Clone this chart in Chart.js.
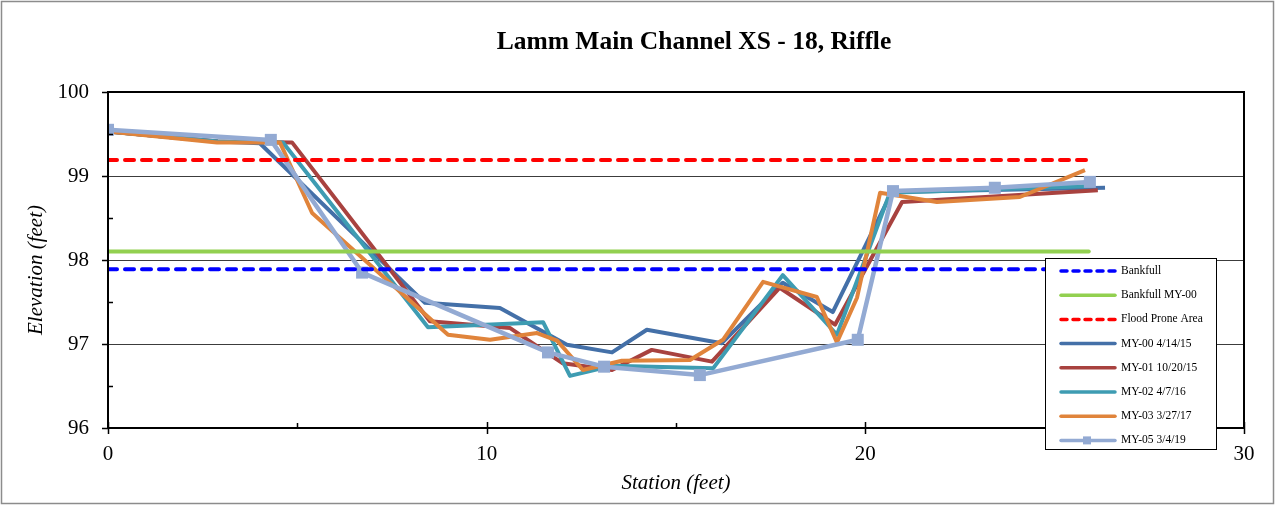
<!DOCTYPE html>
<html>
<head>
<meta charset="utf-8">
<script src="https://cdn.jsdelivr.net/npm/chart.js@4.4.1/dist/chart.umd.min.js"></script>
<style>
html,body{margin:0;padding:0;background:#fff;}
canvas{display:block;}
</style>
</head>
<body>
<canvas id="c" width="1275" height="506"></canvas>
<script>
// ---- Data ----
const chartTitle = "Lamm Main Channel XS - 18, Riffle";
const xTitle = "Station (feet)";
const yTitle = "Elevation (feet)";
const xTicks = [0, 10, 20, 30];
const yTicks = [96, 97, 98, 99, 100];

const refStation = [0, 25.9];
const bankfullElev = 97.89;
const bankfullMY00Elev = 98.10;
const floodProneElev = 99.19;

const my00Station = [0, 2.9, 4.01, 8.37, 10.35, 12.12, 13.31, 14.23, 16.21, 17.82, 19.14, 20.70, 26.33];
const my00Elev    = [99.53, 99.41, 99.39, 97.49, 97.43, 96.99, 96.90, 97.17, 97.01, 97.73, 97.38, 98.81, 98.86];

const my01Station = [0, 2.9, 4.86, 8.50, 10.62, 12.01, 13.31, 14.36, 15.95, 17.74, 19.20, 20.97, 26.14];
const my01Elev    = [99.53, 99.41, 99.40, 97.27, 97.19, 96.77, 96.69, 96.93, 96.79, 97.67, 97.23, 98.69, 98.83];

const my02Station = [0, 2.9, 4.62, 8.45, 11.49, 12.20, 13.31, 15.98, 17.82, 19.25, 20.65, 26.01];
const my02Elev    = [99.53, 99.41, 99.40, 97.20, 97.26, 96.62, 96.74, 96.71, 97.82, 97.11, 98.80, 98.88];

const my03Station = [0, 2.88, 4.54, 5.39, 8.98, 10.09, 11.33, 11.86, 12.54, 13.57, 15.37, 16.24, 17.30, 18.72, 19.25, 19.78, 20.39, 21.89, 24.08, 25.80];
const my03Elev    = [99.53, 99.40, 99.40, 98.56, 97.11, 97.05, 97.13, 97.04, 96.69, 96.80, 96.81, 97.05, 97.74, 97.56, 97.02, 97.55, 98.80, 98.69, 98.75, 99.07];

const my05Station = [0, 4.30, 6.71, 11.62, 13.10, 15.63, 19.80, 20.73, 23.42, 25.93];
const my05Elev    = [99.55, 99.43, 97.85, 96.90, 96.73, 96.63, 97.05, 98.82, 98.86, 98.93];

const seriesNames = ["Bankfull", "Bankfull MY-00", "Flood Prone Area", "MY-00 4/14/15", "MY-01 10/20/15", "MY-02 4/7/16", "MY-03 3/27/17", "MY-05 3/4/19"];

function pts(xs, ys) { return xs.map((x, i) => ({x: x, y: ys[i]})); }
function flat(xs, v) { return xs.map(x => ({x: x, y: v})); }

const SERIF = "'Liberation Serif', 'Times New Roman', serif";

const datasets = [
  {label: seriesNames[0], data: flat(refStation, bankfullElev), borderColor: '#0000FF', borderWidth: 4, borderDash: [9, 8], borderCapStyle: 'round', order: 0},
  {label: seriesNames[1], data: flat(refStation, bankfullMY00Elev), borderColor: '#92D050', borderWidth: 4, borderCapStyle: 'round', order: 0},
  {label: seriesNames[2], data: flat(refStation, floodProneElev), borderColor: '#FF0000', borderWidth: 4, borderDash: [9, 8], borderCapStyle: 'round', order: 0},
  {label: seriesNames[3], data: pts(my00Station, my00Elev), borderColor: '#4470A8', borderWidth: 4, order: 5},
  {label: seriesNames[4], data: pts(my01Station, my01Elev), borderColor: '#A8423F', borderWidth: 4, order: 4},
  {label: seriesNames[5], data: pts(my02Station, my02Elev), borderColor: '#3E9CB2', borderWidth: 4, order: 3},
  {label: seriesNames[6], data: pts(my03Station, my03Elev), borderColor: '#E0843B', borderWidth: 4, order: 2},
  {label: seriesNames[7], data: pts(my05Station, my05Elev), borderColor: '#93AAD3', borderWidth: 4.5, order: 1,
   pointStyle: 'rect', pointRadius: 8.5, pointBackgroundColor: '#93AAD3', pointBorderColor: '#93AAD3', pointBorderWidth: 0}
];
datasets.forEach(d => {
  d.showLine = true; d.fill = false; d.tension = 0; d.borderJoinStyle = 'round';
  if (d.pointRadius === undefined) d.pointRadius = 0;
});

const decor = {
  id: 'decor',
  beforeDraw(chart) {
    const ctx = chart.ctx;
    ctx.save();
    ctx.fillStyle = '#fff';
    ctx.fillRect(0, 0, chart.width, chart.height);
    ctx.restore();
  },
  afterDatasetsDraw(chart) {
    const ctx = chart.ctx, a = chart.chartArea;
    const xs = chart.scales.x, ys = chart.scales.y;
    ctx.save();
    // plot frame
    ctx.strokeStyle = '#000'; ctx.lineWidth = 2;
    ctx.strokeRect(a.left, a.top, a.right - a.left, a.bottom - a.top);
    ctx.lineWidth = 1.5;
    // y major ticks (outside) and minor (inside)
    ctx.beginPath();
    yTicks.forEach(v => { const p = Math.round(ys.getPixelForValue(v)) + 0.5; ctx.moveTo(a.left - 6, p); ctx.lineTo(a.left, p); });
    for (let v = yTicks[0] + 0.5; v < yTicks[yTicks.length - 1]; v += 1) { const p = Math.round(ys.getPixelForValue(v)) + 0.5; ctx.moveTo(a.left, p); ctx.lineTo(a.left + 5, p); }
    // x major ticks (cross) and minor (inside)
    xTicks.forEach(v => { const p = Math.round(xs.getPixelForValue(v)) + 0.5; ctx.moveTo(p, a.bottom - 6); ctx.lineTo(p, a.bottom + 6); });
    for (let v = xTicks[0] + 5; v < xTicks[xTicks.length - 1]; v += 10) { const p = Math.round(xs.getPixelForValue(v)) + 0.5; ctx.moveTo(p, a.bottom - 5); ctx.lineTo(p, a.bottom); }
    ctx.stroke();

    // Title
    ctx.fillStyle = '#000';
    ctx.textAlign = 'center'; ctx.textBaseline = 'middle';
    ctx.font = 'bold 25.5px ' + SERIF;
    ctx.fillText(chartTitle, 694, 42);
    // Axis titles
    ctx.font = 'italic 21px ' + SERIF;
    ctx.fillText(xTitle, 676, 483);
    ctx.save();
    ctx.translate(36, 270); ctx.rotate(-Math.PI / 2);
    ctx.fillText(yTitle, 0, 0);
    ctx.restore();

    // Legend
    const lx = 1045.5, ly = 258.5, lw = 171, lh = 191;
    ctx.fillStyle = '#fff'; ctx.fillRect(lx, ly, lw, lh);
    ctx.strokeStyle = '#000'; ctx.lineWidth = 1; ctx.strokeRect(lx, ly, lw, lh);
    ctx.font = '11.5px ' + SERIF; ctx.textAlign = 'left'; ctx.textBaseline = 'middle';
    chart.data.datasets.forEach((d, i) => {
      const y = 271 + i * 24.2;
      ctx.save();
      ctx.strokeStyle = d.borderColor; ctx.lineWidth = 3.5; ctx.lineCap = 'round';
      ctx.setLineDash(d.borderDash ? [6, 6] : []);
      ctx.beginPath(); ctx.moveTo(1061, y); ctx.lineTo(1115, y); ctx.stroke();
      ctx.restore();
      if (d.pointRadius > 0) { ctx.fillStyle = d.pointBackgroundColor; ctx.fillRect(1083, y - 4, 8, 8); }
      ctx.fillStyle = '#000';
      ctx.fillText(d.label, 1121, y);
    });

    // Outer frame
    ctx.strokeStyle = '#8c8c8c'; ctx.lineWidth = 1.5;
    ctx.strokeRect(1.5, 1.5, chart.width - 3, chart.height - 4);
    ctx.restore();
  }
};

new Chart(document.getElementById('c'), {
  type: 'scatter',
  data: {datasets: datasets},
  options: {
    responsive: false, animation: false, devicePixelRatio: 1,
    layout: {padding: {top: 92, right: 31, bottom: 0, left: 0}},
    plugins: {legend: {display: false}, title: {display: false}, tooltip: {enabled: false}},
    scales: {
      x: {
        type: 'linear', min: 0, max: 30,
        afterFit(s) { s.height = 78; },
        afterBuildTicks(s) { s.ticks = xTicks.map(v => ({value: v})); },
        grid: {display: false, drawTicks: false},
        border: {display: false},
        ticks: {padding: 14, color: '#000', font: {family: SERIF, size: 21}, maxRotation: 0}
      },
      y: {
        type: 'linear', min: 96, max: 100,
        afterFit(s) { s.width = 108; },
        afterBuildTicks(s) { s.ticks = yTicks.map(v => ({value: v})); },
        grid: {drawTicks: false, color: '#3c3c3c', lineWidth: 1},
        border: {display: false},
        ticks: {padding: 19, color: '#000', font: {family: SERIF, size: 21}}
      }
    }
  },
  plugins: [decor]
});
</script>
</body>
</html>
